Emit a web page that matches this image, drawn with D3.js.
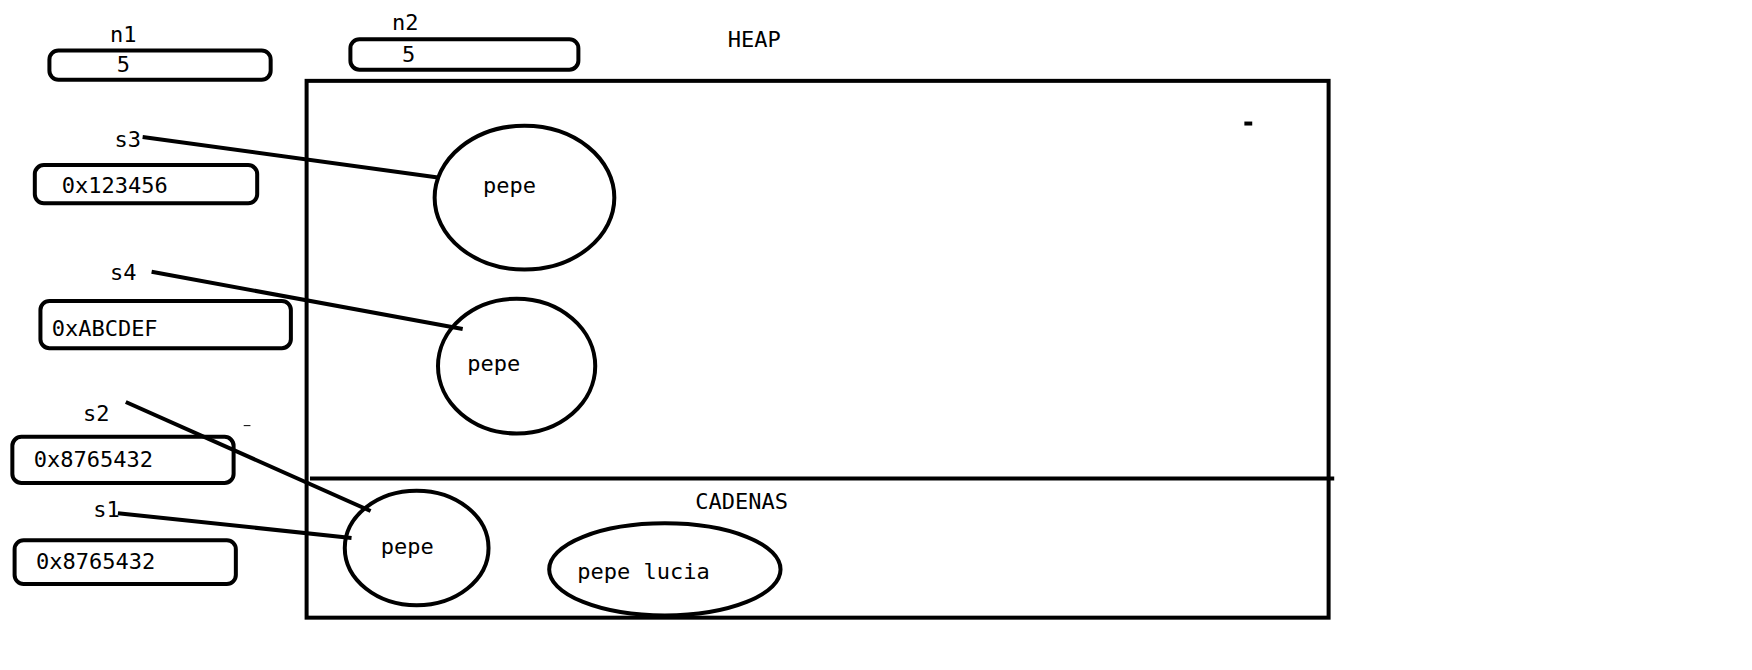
<!DOCTYPE html>
<html><head><meta charset="utf-8">
<script src="https://cdn.jsdelivr.net/npm/d3@7"></script>
<style>
body{margin:0;background:#fff}
text{font-family:"DejaVu Sans Mono",monospace;font-size:22px;fill:#000}
.box{fill:none;stroke:#000;stroke-width:4}
.line{stroke:#000;stroke-width:4;fill:none}
</style></head>
<body><svg width="1752" height="670"></svg>
<script>
// stack variables: name, value
const VAR_NAMES = ['n1','n2','s3','s4','s2','s1'];
const VAR_VALUES = ['5','5','0x123456','0xABCDEF','0x8765432','0x8765432'];
// heap strings
const STRINGS = ['pepe','pepe','pepe','pepe lucia'];
// pointer links: variable index -> string index
const LINKS = [[2,0],[3,1],[4,2],[5,2]];
const SECTIONS = ['HEAP','CADENAS'];

// sketch was measured on a 1560-wide copy
const x = d3.scaleLinear().domain([0,1560]).range([0,1752]);
const y = d3.scaleLinear().domain([0,596.6]).range([0,670]);
const svg = d3.select('svg');

const VAR_LAYOUT = [
  {lx:98, ly:37, bx:44, by:45, bw:197, bh:26, tx:104, ty:64},
  {lx:349,ly:27, bx:312,by:35, bw:203, bh:27, tx:358, ty:55},
  {lx:102,ly:131,bx:31, by:147,bw:198, bh:34, tx:55, ty:172},
  {lx:98, ly:249,bx:36, by:268,bw:223, bh:42, tx:46, ty:299},
  {lx:74, ly:375,bx:11, by:389,bw:197, bh:41, tx:30, ty:416},
  {lx:83, ly:460,bx:13, by:481,bw:197, bh:39, tx:32, ty:507},
];
const STR_LAYOUT = [
  {cx:467,cy:176,rx:80,ry:64,tx:430,ty:172},
  {cx:460,cy:326,rx:70,ry:60,tx:416,ty:330},
  {cx:371,cy:488,rx:64,ry:51,tx:339,ty:493},
  {cx:592,cy:507,rx:103,ry:41,tx:514,ty:516},
];
const LINK_START = [[127,122],[135,242],[112,358],[105,457]];
const LINK_END = [[390,158],[412,293],[330,455],[313,479]];

svg.append('rect').attr('class','box').attr('stroke-width',4.5)
  .attr('x',x(273)).attr('y',y(72)).attr('width',x(1183)-x(273)).attr('height',y(550)-y(72));
svg.append('line').attr('class','line').attr('x1',x(276)).attr('x2',x(1188)).attr('y1',y(426)).attr('y2',y(426));
svg.append('text').attr('x',x(648)).attr('y',y(42)).text(SECTIONS[0]);
svg.append('text').attr('x',x(619)).attr('y',y(453)).text(SECTIONS[1]);
svg.append('line').attr('class','line').attr('x1',x(1108)).attr('x2',x(1115)).attr('y1',y(110)).attr('y2',y(110));
svg.append('line').attr('stroke','#000').attr('stroke-width',1).attr('x1',x(217)).attr('x2',x(223)).attr('y1',y(379)).attr('y2',y(379));

VAR_NAMES.forEach((n,i)=>{
  const L = VAR_LAYOUT[i];
  svg.append('text').attr('x',x(L.lx)).attr('y',y(L.ly)).text(n);
  svg.append('rect').attr('class','box').attr('rx',9)
    .attr('x',x(L.bx)).attr('y',y(L.by)).attr('width',x(L.bw)).attr('height',y(L.bh));
  svg.append('text').attr('x',x(L.tx)).attr('y',y(L.ty)).text(VAR_VALUES[i]);
});

STRINGS.forEach((s,i)=>{
  const L = STR_LAYOUT[i];
  svg.append('ellipse').attr('class','box')
    .attr('cx',x(L.cx)).attr('cy',y(L.cy)).attr('rx',x(L.rx)).attr('ry',y(L.ry));
  svg.append('text').attr('x',x(L.tx)).attr('y',y(L.ty)).text(s);
});

LINKS.forEach((l,i)=>{
  svg.append('line').attr('class','line')
    .attr('x1',x(LINK_START[i][0])).attr('y1',y(LINK_START[i][1]))
    .attr('x2',x(LINK_END[i][0])).attr('y2',y(LINK_END[i][1]));
});
</script></body></html>
